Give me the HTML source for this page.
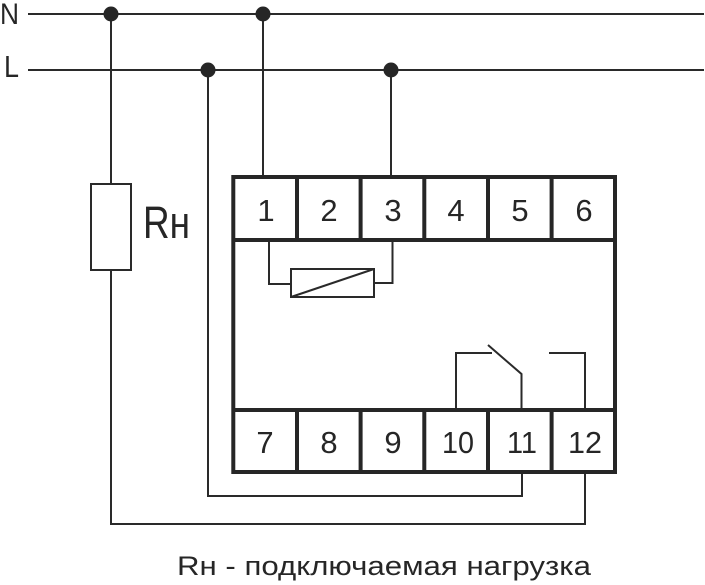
<!DOCTYPE html>
<html><head><meta charset="utf-8"><style>
html,body{margin:0;padding:0;background:#fff;}
svg{display:block;}
text{font-family:"Liberation Sans","DejaVu Sans",sans-serif;fill:#262626;}
</style></head><body>
<svg width="705" height="585" viewBox="0 0 705 585" xmlns="http://www.w3.org/2000/svg">
<g stroke="#2a2a2a" stroke-width="2" fill="none">
  <!-- bus lines -->
  <line x1="28" y1="14" x2="704" y2="14"/>
  <line x1="28" y1="70" x2="704" y2="70"/>
  <!-- resistor branch -->
  <line x1="111" y1="14" x2="111" y2="184"/>
  <rect x="91" y="184" width="40" height="86"/>
  <polyline points="111,270 111,524 585,524 585,472"/>
  <!-- L to terminal 11 -->
  <polyline points="208,70 208,496 522,496 522,472"/>
  <!-- terminal 1 and 3 -->
  <line x1="263" y1="14" x2="263" y2="177"/>
  <line x1="391" y1="70" x2="391" y2="177"/>
  <!-- coil -->
  <polyline points="269,240 269,284 291,284"/>
  <rect x="291" y="269" width="83" height="28"/>
  <line x1="291" y1="297" x2="374" y2="269"/>
  <polyline points="374,283 392.5,283 392.5,240"/>
  <!-- contacts -->
  <polyline points="456,410 456,353 492,353"/>
  <polyline points="488,345 521.5,374 521.5,410"/>
  <polyline points="549,353 585,353 585,410"/>
</g>
<!-- dots -->
<g fill="#262626">
  <circle cx="111" cy="14" r="7.5"/>
  <circle cx="263" cy="14" r="7.5"/>
  <circle cx="208" cy="70" r="7.5"/>
  <circle cx="391" cy="70" r="7.5"/>
</g>
<!-- relay box -->
<g stroke="#262626" stroke-width="4" fill="none">
  <rect x="233.3" y="177" width="381.7" height="295"/>
  <line x1="233.3" y1="240" x2="615" y2="240"/>
  <line x1="233.3" y1="410" x2="615" y2="410"/>
  <line x1="297" y1="177" x2="297" y2="240"/>
  <line x1="360.6" y1="177" x2="360.6" y2="240"/>
  <line x1="424.3" y1="177" x2="424.3" y2="240"/>
  <line x1="488" y1="177" x2="488" y2="240"/>
  <line x1="551.6" y1="177" x2="551.6" y2="240"/>
  <line x1="297" y1="410" x2="297" y2="472"/>
  <line x1="360.6" y1="410" x2="360.6" y2="472"/>
  <line x1="424.3" y1="410" x2="424.3" y2="472"/>
  <line x1="488" y1="410" x2="488" y2="472"/>
  <line x1="551.6" y1="410" x2="551.6" y2="472"/>
</g>
<g font-size="31" text-anchor="middle">
  <text x="266" y="221">1</text>
  <text x="329" y="221">2</text>
  <text x="393" y="221">3</text>
  <text x="456" y="221">4</text>
  <text x="520" y="221">5</text>
  <text x="584" y="221">6</text>
  <text x="265" y="453">7</text>
  <text x="329" y="453">8</text>
  <text x="393" y="453">9</text>
  <text x="458" y="453" textLength="32" lengthAdjust="spacingAndGlyphs">10</text>
  <text x="522" y="453" textLength="30" lengthAdjust="spacingAndGlyphs">11</text>
  <text x="585" y="453" textLength="34" lengthAdjust="spacingAndGlyphs">12</text>
</g>
<text x="0" y="24" font-size="30" textLength="19" lengthAdjust="spacingAndGlyphs">N</text>
<text x="4" y="77" font-size="31" textLength="15" lengthAdjust="spacingAndGlyphs">L</text>
<text x="143" y="238" font-size="45" textLength="47" lengthAdjust="spacingAndGlyphs">Rн</text>
<text x="177" y="575" font-size="27" textLength="414" lengthAdjust="spacingAndGlyphs">Rн - подключаемая нагрузка</text>
</svg>
</body></html>
